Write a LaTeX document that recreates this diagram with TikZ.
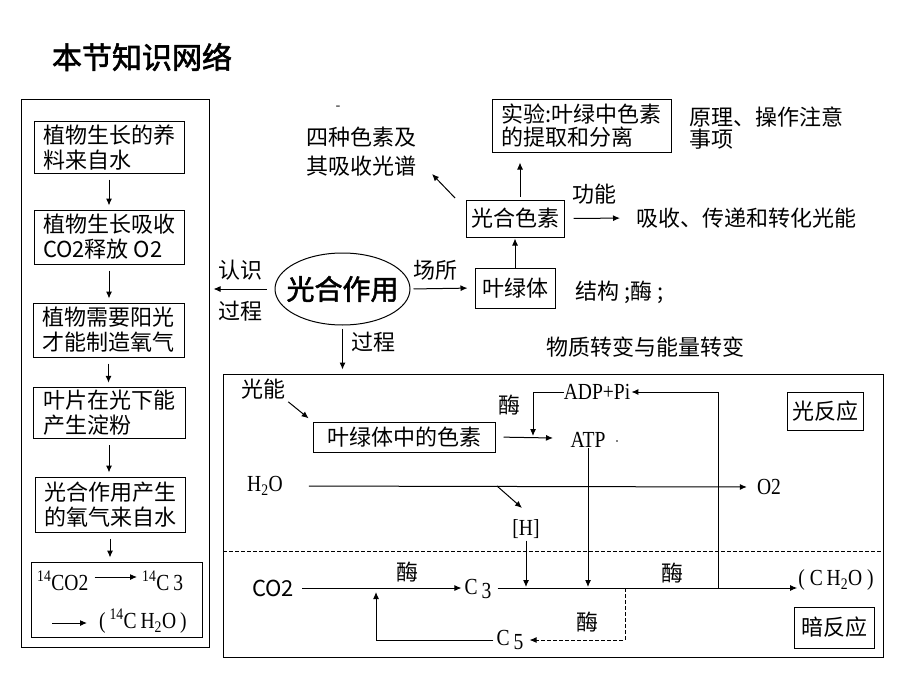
\documentclass[tikz,border=0pt]{standalone}
\usepackage{fontspec}
\setmainfont{Noto Sans CJK SC}
\newfontfamily\boldcjk[FakeBold=2]{Noto Sans CJK SC}
\newfontfamily\lat[FakeStretch=0.85]{Liberation Serif}
\usetikzlibrary{arrows.meta,shapes.geometric}
\tikzset{
  cjk/.style={font=\fontsize{22}{25}\selectfont},
  latf/.style={font=\lat\fontsize{23}{25}\selectfont},
  txt/.style={inner sep=0pt, cjk},
  ltxt/.style={inner sep=0pt, latf},
  box/.style={draw, line width=1pt, inner sep=3pt, cjk, align=left},
  arr/.style={line width=1pt, -{Latex[length=7pt,width=6pt]}},
  conn/.style={line width=1pt},
  dsh/.style={line width=1pt, dash pattern=on 4pt off 2pt},
}
\begin{document}
\begin{tikzpicture}[x=1pt,y=-1pt]
\useasboundingbox[fill=white] (0,0) rectangle (920,690);

% title
\node[inner sep=0pt, font=\boldcjk\fontsize{30}{30}\selectfont] (title) at (142,57) {本节知识网络};

% left column
\node[draw, line width=1pt, minimum width=188pt, minimum height=547pt] (lframe) at (115,373.5) {};
\node[box, minimum width=150pt, minimum height=49pt] (b1) at (109,147.5) {植物生长的养\\料来自水};
\node[box, minimum width=150pt, minimum height=54pt] (b2) at (109,237) {植物生长吸收\\CO2释放 O2};
\node[box, minimum width=151pt, minimum height=54pt] (b3) at (108.5,330) {植物需要阳光\\才能制造氧气};
\node[box, minimum width=152pt, minimum height=48pt] (b4) at (109,413) {叶片在光下能\\产生淀粉};
\node[box, minimum width=150pt, minimum height=55pt] (b5) at (110,504.5) {光合作用产生\\的氧气来自水};
\node[draw, line width=1pt, minimum width=171pt, minimum height=75pt] (b6) at (116.5,599.5) {};
\foreach \a/\b in {b1/b2,b2/b3,b3/b4,b4/b5,b5/b6}
  \draw[arr, shorten <=6pt, shorten >=4pt] (\a.south) -- (\a.south |- \b.north);

\node[ltxt, anchor=west] (r1a) at (37,581) {\textsuperscript{14}CO2};
\node[ltxt, anchor=west] (r1b) at (142,581) {\textsuperscript{14}C\,3};
\draw[arr, shorten <=6pt, shorten >=5pt] ([yshift=4pt]r1a.east) -- ([yshift=4pt]r1b.west);
\node[ltxt, anchor=west] (r2b) at (99,621) {(\,\textsuperscript{14}C\,H\textsubscript{2}O\,)};
\coordinate (r2s) at (52,623);
\draw[arr, shorten >=12pt] (r2s) -- (r2s -| r2b.west);

% center
\node[draw, ellipse, line width=1pt, minimum width=135pt, minimum height=72pt, inner sep=0pt] (ps) at (342.5,289) {};
\node[inner sep=0pt, font=\boldcjk\fontsize{28}{28}\selectfont] (pstxt) at (ps.center) {光合作用};
\draw[arr, shorten <=8pt, shorten >=4pt] (ps.west) -- (ps.west -| lframe.east);
\node[txt] (rs) at (240,270) {认识};
\node[txt] (gc1) at (240,311) {过程};

\node[box, minimum width=80pt, minimum height=40pt, align=center] (ylt) at (515,288) {叶绿体};
\draw[arr, shorten <=3pt, shorten >=7pt] (ps.east) -- (ylt.west);
\node[txt] (cs) at (435,270) {场所};

\node[box, minimum width=98pt, minimum height=37pt, align=center] (pig) at (515,218.5) {光合色素};
\draw[arr, shorten >=1pt] (ylt.north) -- (pig.south);

\node[box, minimum width=179pt, minimum height=52pt, font=\fontsize{22}{23}\selectfont] (exp) at (581.5,126) {实验:叶绿中色素\\的提取和分离};
\draw[arr, shorten <=3pt, shorten >=10pt] ([xshift=5pt]pig.north) -- ([xshift=5pt]pig.north |- exp.south);

\node[txt, align=left, font=\fontsize{22}{22}\selectfont] (prin) at (766,128) {原理、操作注意\\事项};

\node[txt, align=left, font=\fontsize{22}{29}\selectfont] (spec) at (361,151.5) {四种色素及\\其吸收光谱};
\node[inner sep=0pt, font=\fontsize{14}{14}\selectfont] (dash) at (338,108) {-};
\coordinate (spectip) at (432,174);
\draw[arr, shorten <=2pt] ([xshift=-9pt]pig.north west) -- (spectip);

\node[txt] (func) at (594,194) {功能};
\node[txt, anchor=west] (absorb) at (636,218) {吸收、传递和转化光能};
\draw[arr, shorten <=9pt, shorten >=16pt] (pig.east) -- (absorb.west);

\node[txt, anchor=west] (struct) at (575,292) {结构 ;酶 ;};
\node[txt] (mat) at (645,347) {物质转变与能量转变};

% big box
\node[draw, line width=1pt, minimum width=660pt, minimum height=283pt] (big) at (553,515.5) {};
\draw[arr, shorten <=3pt, shorten >=4pt] (ps.south) -- (ps.south |- big.north);
\node[txt] (gc2) at (373,342) {过程};
\coordinate (dl) at (223,551);
\draw[dsh] (dl) -- (dl -| big.east);

% light reaction
\node[txt] (gn) at (263,389) {光能};
\node[box, minimum width=182pt, minimum height=30pt, align=center] (chl) at (404,437) {叶绿体中的色素};
\draw[arr, shorten <=4pt, shorten >=5pt] (gn.south east) -- (chl.north west);
\node[txt] (enz1) at (509,405) {酶};
\node[ltxt] (atp) at (588,440) {ATP};
\fill (617,441) circle (0.9pt);
\coordinate (atpin) at (553,438);
\draw[arr, shorten <=8pt] (chl.east) -- (atpin);
\node[ltxt] (adp) at (597,392) {ADP+Pi};
\coordinate (adpj) at (533,438);
\draw[arr, shorten >=2pt] (adp.west) -| (adpj);
\node[ltxt] (h2o) at (265,486) {H\textsubscript{2}O};
\node[ltxt] (o2) at (769,487) {O2};
\draw[arr, shorten <=26pt, shorten >=10pt] (h2o.east) -- (o2.west);
\coordinate (hj) at (497,486);
\coordinate (hjt) at (522,508);
\draw[arr] (hj) -- (hjt);
\node[ltxt] (hh) at (526,529) {[H]};
\node[box, minimum width=76pt, minimum height=38pt, align=center] (lr) at (825,411) {光反应};

% dark reaction
\node[txt] (co2) at (273,588) {CO2};
\node[ltxt] (c3) at (478,589) {C\,\raisebox{-0.15em}{3}};
\node[ltxt] (ch2o) at (836,580) {(\ C\,H\textsubscript{2}O\ )};
\node[ltxt] (c5) at (510,640) {C\,\raisebox{-0.2em}{5}};
\coordinate (loopb) at (718,588);
\coordinate (dj) at (625,588);
\coordinate (cj) at (376,588);
\draw[arr, shorten <=8pt, shorten >=3pt] (co2.east) -- (c3.west |- co2.east);
\draw[arr, shorten <=6pt, shorten >=1pt] (c3.east |- loopb) -- (ch2o.west |- loopb);
\draw[arr, shorten >=1pt] (loopb) |- (adp.east);
\draw[arr, shorten >=1pt] (atp.south) -- (atp.south |- loopb);
\draw[arr, shorten <=2pt, shorten >=1pt] (hh.south) -- (hh.south |- loopb);
\draw[dsh, -{Latex[length=7pt,width=6pt]}, shorten >=6pt] (dj) |- (c5.east);
\draw[arr, shorten <=3pt, shorten >=4pt] (c5.west) -| (cj);
\node[txt] (enz2) at (407,572) {酶};
\node[txt] (enz3) at (672,573) {酶};
\node[txt] (enz4) at (587,622) {酶};
\node[box, minimum width=80pt, minimum height=41pt, align=center] (dr) at (834,627.5) {暗反应};
\end{tikzpicture}
\end{document}
